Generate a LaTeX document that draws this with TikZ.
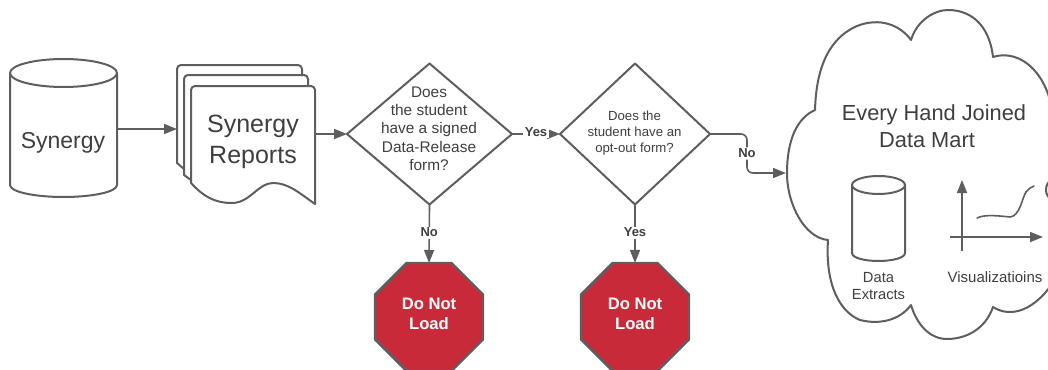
\documentclass[tikz,border=0pt]{standalone}
\usepackage{fontspec}
\setmainfont{Liberation Sans}
\usetikzlibrary{arrows.meta,shapes.geometric}
\definecolor{ln}{HTML}{5E5E5E}
\definecolor{tx}{HTML}{3F3F3F}
\definecolor{stopred}{HTML}{C92A39}
\newcommand{\fsz}[1]{\fontsize{#1}{#1}\selectfont}
\tikzset{
  shp/.style={draw=ln,line width=2pt,line join=round,fill=white},
  hit/.style={inner sep=0pt,outer sep=0pt},
  lbl/.style={text=tx,align=center,inner sep=0pt},
  conn/.style={draw=ln,line width=1.6pt,-{Triangle[length=13pt,width=10pt]},shorten >=0pt},
  elab/.style={text=tx,font=\fsz{13}\bfseries,fill=white,inner sep=1.5pt},
  stopsign/.style={regular polygon,regular polygon sides=8,minimum size=116.9pt,inner sep=0pt,outer sep=0pt,draw=ln,line width=2.4pt,fill=stopred,line join=round},
  stoptext/.style={text=white,font=\fsz{16.6}\bfseries,align=center,inner sep=0pt},
  dia/.style={diamond,draw=ln,line width=2pt,fill=white,inner sep=0pt,outer sep=0pt,line join=round},
}
\begin{document}
\begin{tikzpicture}[x=1pt,y=-1pt]
\useasboundingbox (0,0) rectangle (1048,369);
\clip (0,0) rectangle (1048,369);
% source cylinder
\node[hit,minimum width=107pt,minimum height=138pt] (syn) at (63.5,128) {};
\draw[shp] (10,73) -- (10,185) .. controls (10,192) and (35,197) .. (63.5,197) .. controls (92,197) and (117,192) .. (117,185) -- (117,73);
\draw[shp] (63.5,73) ellipse [x radius=53.5pt,y radius=14pt];
\node[lbl,font=\fsz{23}] at (63,143) {Synergy};
% reports
\node[hit,minimum width=138pt,minimum height=139pt] (rep) at (246,134.5) {};
\draw[shp,line cap=round] (184,169) -- (177,163) -- (177,69) arc[start angle=180,end angle=90,radius=4pt] -- (298,65) arc[start angle=90,end angle=0,radius=4pt] -- (302,76);
\draw[shp,line cap=round] (191,180) -- (184,175) -- (184,79) arc[start angle=180,end angle=90,radius=4pt] -- (304,75) arc[start angle=90,end angle=0,radius=4pt] -- (308,87);
\draw[shp] (191,183) -- (191,90) arc[start angle=180,end angle=90,radius=4pt] -- (311,86) arc[start angle=90,end angle=0,radius=4pt] -- (315,204) .. controls (298,192) and (288,183) .. (273,183) .. controls (258,183) and (250,203) .. (232,203) .. controls (214,203) and (203,196) .. (191,183) -- cycle;
\node[lbl,font=\fsz{25}] at (253,142) {Synergy\\[5.5pt]Reports};
% diamonds
\node[dia,minimum width=165pt,minimum height=141pt,aspect=1.17] (d1) at (429.5,134) {};
\node[lbl,font=\fontsize{15.4}{18.3}\selectfont,align=center] at (429,128.5) {Does\\the student\\have a signed\\Data-Release\\form?};
\node[dia,minimum width=150pt,minimum height=141pt,aspect=1.064] (d2) at (635,134) {};
\node[lbl,font=\fontsize{13.2}{16}\selectfont,align=center] at (634.5,133) {Does the\\student have an\\opt-out form?};
% stop signs
\node[stopsign] (s1) at (429,317) {};
\node[stopsign] (s2) at (635,317) {};
\node[stoptext] at (429,314) {Do Not\\[3.4pt]Load};
\node[stoptext] at (635,314) {Do Not\\[3.4pt]Load};
% cloud
\coordinate (cl) at (786,173);
\draw[shp] (815,110) .. controls (816,75) and (825,40) .. (857,26) .. controls (880,17) and (900,25) .. (911,40)
  .. controls (917,20) and (935,10) .. (948,10) .. controls (975,10) and (990,30) .. (993,57)
  .. controls (1015,50) and (1040,65) .. (1050,100) -- (1056,178) .. controls (1048,180) and (1046,185) .. (1046,190) .. controls (1046,195) and (1048,198) .. (1056,202) -- (1056,278)
  .. controls (1035,312) and (1010,318) .. (993,307)
  .. controls (985,330) and (965,339) .. (947,339) .. controls (930,339) and (917,325) .. (911,305)
  .. controls (900,320) and (880,325) .. (860,320) .. controls (840,312) and (825,285) .. (828,240)
  .. controls (805,238) and (787,205) .. (787,173) .. controls (787,140) and (797,118) .. (815,110) -- cycle;
\node[lbl,font=\fontsize{21.8}{27}\selectfont] at (934,126.5) {Every Hand Joined\\Data Mart\hspace*{14pt}};
% inner cylinder
\draw[shp] (852,185) -- (852,253) .. controls (852,258) and (865,261) .. (878.5,261) .. controls (892,261) and (905,258) .. (905,253) -- (905,185);
\draw[shp] (878.5,185) ellipse [x radius=26.5pt,y radius=9pt];
\node[lbl,font=\fsz{14.7}] at (878.5,286) {Data\\[3pt]Extracts};
% chart
\coordinate (yo) at (962,251);
\coordinate (yt) at (962,180);
\coordinate (xo) at (950,237);
\coordinate (xt) at (1043,237);
\draw[conn] (yo) -- (yt);
\draw[conn] (xo) -- (xt);
\draw[draw=ln,line width=1.6pt,line cap=round] (977,218) .. controls (985,214) and (1000,216) .. (1010,217) .. controls (1020,216) and (1022,198) .. (1026,192) .. controls (1028,189) and (1031,187) .. (1034,186);
\node[lbl,font=\fsz{15}] at (995,277) {Visualizatioins};
% connectors
\draw[conn] (syn.east |- 0,129) -- (rep.west |- 0,129);
\draw[conn] (rep.east |- d1.west) -- (d1.west);
\draw[conn] (d1.east) -- node[elab,pos=.5,yshift=2pt]{Yes} (d2.west);
\draw[conn] (d1.south) -- node[elab,pos=.48]{No} (s1.north);
\draw[conn] (d2.south) -- node[elab,pos=.48]{Yes} (s2.north);
\draw[conn,rounded corners=6pt] (d2.east) -- (747,134) -- node[elab,pos=.5]{No} (747,173) -- (cl);
\end{tikzpicture}
\end{document}
